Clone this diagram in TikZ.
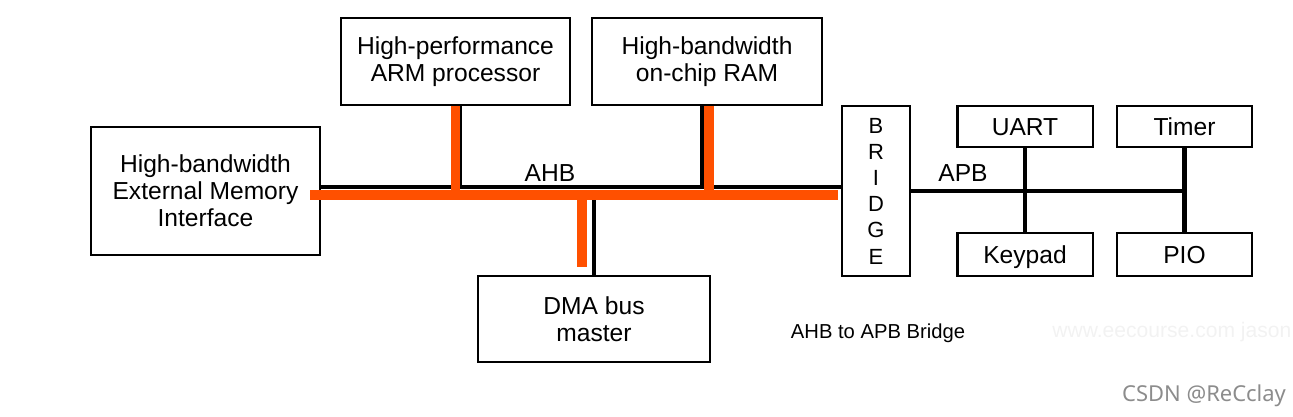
\documentclass[tikz,border=0pt]{standalone}
\usepackage{fontspec}
\setmainfont{Liberation Sans}
\newfontfamily\csdnfont{Noto Sans}
\usetikzlibrary{positioning,calc}
\definecolor{busorange}{HTML}{FF5000}
\definecolor{markgray}{HTML}{8C8C8C}
\tikzset{
  block/.style={
    rectangle, draw=black, line width=1.4pt,
    fill=white, inner sep=2pt, align=center,
    font=\fontsize{14}{15.3}\selectfont
  },
  unitbox/.style={
    block, minimum width=2.71cm,
    text height=10pt, text depth=0pt
  },
  ahbthin/.style={line width=2.3pt, black},
  ahbwide/.style={line width=5.6pt, busorange},
  apbwire/.style={line width=2.8pt, black},
  buslabel/.style={font=\fontsize{14}{16}\selectfont, inner sep=0pt},
}

\begin{document}
\begin{tikzpicture}[x=0.02cm, y=-0.02cm]
  \useasboundingbox (0,0) rectangle (1293,416);

  % AHB side
  \node[block, minimum width=4.58cm, minimum height=2.56cm] (extmem) at (205.5,191)
    {High-bandwidth\\External Memory\\Interface};
  \node[block, minimum width=4.58cm, minimum height=1.74cm] (arm) at (455.5,61.5)
    {High-performance\\ARM processor};
  \node[block, minimum width=4.6cm, minimum height=1.74cm] (ram) at (707,61.5)
    {High-bandwidth\\on-chip RAM};
  \node[block, minimum width=4.64cm, minimum height=1.72cm] (dma) at (594,319)
    {DMA bus\\master};

  % bridge and APB side
  \node[block, minimum width=1.36cm, minimum height=3.4cm,
        font=\fontsize{12.5}{14.9}\selectfont] (bridge) at (876,191)
    {B\\R\\I\\D\\G\\E};
  \node[unitbox, minimum height=0.82cm] (uart) at (1025,126.5) {UART};
  \node[unitbox, minimum height=0.82cm] (timer) at (1184.5,126.5) {Timer};
  \node[unitbox, minimum height=0.86cm] (keypad) at (1025,254.5) {Keypad};
  \node[unitbox, minimum height=0.86cm] (pio) at (1184.5,254.5) {PIO};

  % AHB bus
  \draw[ahbthin] ([yshift=0.08cm]extmem.east) -- ([yshift=0.08cm]bridge.west);
  \draw[ahbthin] ([xshift=0.09cm]arm.south) -- ([xshift=0.09cm,yshift=0.08cm]arm.south |- extmem.east);
  \draw[ahbthin] ([xshift=-0.1cm]ram.south) -- ([xshift=-0.1cm,yshift=0.08cm]ram.south |- extmem.east);
  \draw[ahbthin] (dma.north) -- (dma.north |- extmem.east);
  \draw[ahbwide] ([xshift=-0.22cm,yshift=-0.08cm]extmem.east) -- ([xshift=-0.06cm,yshift=-0.08cm]bridge.west);
  \draw[ahbwide] (arm.south) -- (arm.south |- extmem.east);
  \draw[ahbwide] ([xshift=0.04cm]ram.south) -- ([xshift=0.04cm]ram.south |- extmem.east);
  \draw[ahbwide] ([xshift=-0.24cm,yshift=0.16cm]dma.north) -- ([xshift=-0.24cm]dma.north |- extmem.east);

  % APB bus
  \draw[apbwire] (bridge.east) -- (bridge.east -| timer.south);
  \draw[apbwire] (uart.south) -- (keypad.north);
  \draw[apbwire] (timer.south) -- (pio.north);

  % labels
  \node[buslabel] (ahblbl) at (550,173) {AHB};
  \node[buslabel] (apblbl) at (963,173) {APB};
  \node[font=\fontsize{11.5}{13}\selectfont, inner sep=0pt] (caption) at (878,333) {AHB to APB Bridge};
  \node[font=\fontsize{12}{13}\selectfont, text=black!5, anchor=west, inner sep=0pt] (wmark) at (1052,332)
    {www.eecourse.com jason};
  \node[font=\csdnfont\fontsize{12.5}{14}\selectfont, text=markgray, inner sep=0pt] (csdn) at (1204,396)
    {CSDN @ReCclay};
\end{tikzpicture}
\end{document}
